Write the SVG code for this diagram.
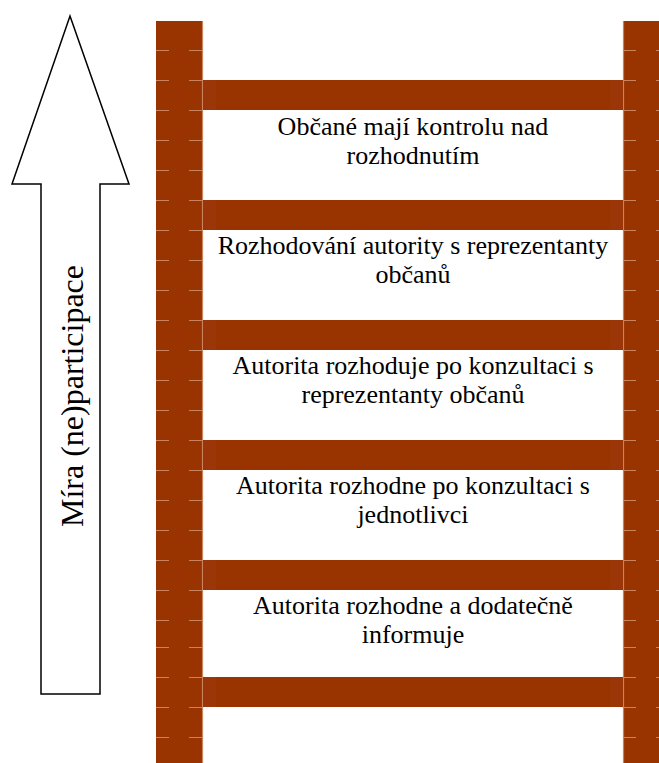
<svg xmlns="http://www.w3.org/2000/svg" width="659" height="763" viewBox="0 0 659 763">
<style>
.wood{fill:#993300}
.stub{fill:#9b3608}
.seam{stroke:#c9835f;stroke-width:1}
.edge{stroke:#c9835f;stroke-width:1.2}
.lbl{font-family:'Liberation Serif','Times New Roman',serif;font-size:26px;fill:#000;text-anchor:middle}
.arrow{fill:#fff;stroke:#000;stroke-width:1.5}
</style>
<defs>
<g id="seamL"><line class="seam" x1="156" y1="0" x2="169" y2="0"/><line class="seam" x1="189" y1="0" x2="202" y2="0"/></g>
<g id="seamR"><line class="seam" x1="623" y1="0" x2="636" y2="0"/><line class="seam" x1="656" y1="0" x2="659" y2="0"/></g>
</defs>
<g id="arrow">
<polygon class="arrow" points="70,16 129,184 100,184 100,694 41,694 41,184 12,184"/>
<text x="83" y="396" class="lbl" style="font-size:32px" transform="rotate(-90 83 396)">Míra (ne)participace</text>
</g>
<g id="post-left">
<rect class="wood" x="156" y="21" width="47" height="742"/>
<line class="edge" x1="202.5" y1="21" x2="202.5" y2="763"/>
</g>
<g id="post-right">
<rect class="wood" x="623" y="21" width="36" height="742"/>
<line class="edge" x1="623.5" y1="21" x2="623.5" y2="763"/>
</g>
<g id="seams">
<use href="#seamL" y="50.5"/><use href="#seamL" y="80.5"/><use href="#seamL" y="110.5"/><use href="#seamL" y="140.5"/>
<use href="#seamL" y="170.5"/><use href="#seamL" y="200.5"/><use href="#seamL" y="230.5"/><use href="#seamL" y="260.5"/>
<use href="#seamL" y="290.5"/><use href="#seamL" y="320.5"/><use href="#seamL" y="350.5"/><use href="#seamL" y="380.5"/>
<use href="#seamL" y="410.5"/><use href="#seamL" y="440.5"/><use href="#seamL" y="470.5"/><use href="#seamL" y="500.5"/>
<use href="#seamL" y="530.5"/><use href="#seamL" y="560.5"/><use href="#seamL" y="590.5"/><use href="#seamL" y="620.5"/>
<use href="#seamL" y="647.5"/><use href="#seamL" y="677.5"/><use href="#seamL" y="707.5"/><use href="#seamL" y="737.5"/>
<use href="#seamR" y="50.5"/><use href="#seamR" y="80.5"/><use href="#seamR" y="110.5"/><use href="#seamR" y="140.5"/>
<use href="#seamR" y="170.5"/><use href="#seamR" y="200.5"/><use href="#seamR" y="230.5"/><use href="#seamR" y="260.5"/>
<use href="#seamR" y="290.5"/><use href="#seamR" y="320.5"/><use href="#seamR" y="350.5"/><use href="#seamR" y="380.5"/>
<use href="#seamR" y="410.5"/><use href="#seamR" y="440.5"/><use href="#seamR" y="470.5"/><use href="#seamR" y="500.5"/>
<use href="#seamR" y="530.5"/><use href="#seamR" y="560.5"/><use href="#seamR" y="590.5"/><use href="#seamR" y="620.5"/>
<use href="#seamR" y="647.5"/><use href="#seamR" y="677.5"/><use href="#seamR" y="707.5"/><use href="#seamR" y="737.5"/>
</g>
<g id="rung1">
<rect class="wood" x="203" y="80" width="420" height="30"/>
<rect class="stub" x="203" y="80" width="13" height="30"/>
<rect class="stub" x="610" y="80" width="13" height="30"/>
</g>
<g id="rung2">
<rect class="wood" x="203" y="200" width="420" height="30"/>
<rect class="stub" x="203" y="200" width="13" height="30"/>
<rect class="stub" x="610" y="200" width="13" height="30"/>
</g>
<g id="rung3">
<rect class="wood" x="203" y="320" width="420" height="30"/>
<rect class="stub" x="203" y="320" width="13" height="30"/>
<rect class="stub" x="610" y="320" width="13" height="30"/>
</g>
<g id="rung4">
<rect class="wood" x="203" y="440" width="420" height="30"/>
<rect class="stub" x="203" y="440" width="13" height="30"/>
<rect class="stub" x="610" y="440" width="13" height="30"/>
</g>
<g id="rung5">
<rect class="wood" x="203" y="560" width="420" height="30"/>
<rect class="stub" x="203" y="560" width="13" height="30"/>
<rect class="stub" x="610" y="560" width="13" height="30"/>
</g>
<g id="rung6">
<rect class="wood" x="203" y="677" width="420" height="30"/>
<rect class="stub" x="203" y="677" width="13" height="30"/>
<rect class="stub" x="610" y="677" width="13" height="30"/>
</g>
<g id="label1"><text class="lbl" x="413" y="135">Občané mají kontrolu nad</text><text class="lbl" x="413" y="164">rozhodnutím</text></g>
<g id="label2"><text class="lbl" x="413" y="254">Rozhodování autority s reprezentanty</text><text class="lbl" x="413" y="283">občanů</text></g>
<g id="label3"><text class="lbl" x="413" y="374">Autorita rozhoduje po konzultaci s</text><text class="lbl" x="413" y="403">reprezentanty občanů</text></g>
<g id="label4"><text class="lbl" x="413" y="494">Autorita rozhodne po konzultaci s</text><text class="lbl" x="413" y="523">jednotlivci</text></g>
<g id="label5"><text class="lbl" x="413" y="614">Autorita rozhodne a dodatečně</text><text class="lbl" x="413" y="643">informuje</text></g>
</svg>
